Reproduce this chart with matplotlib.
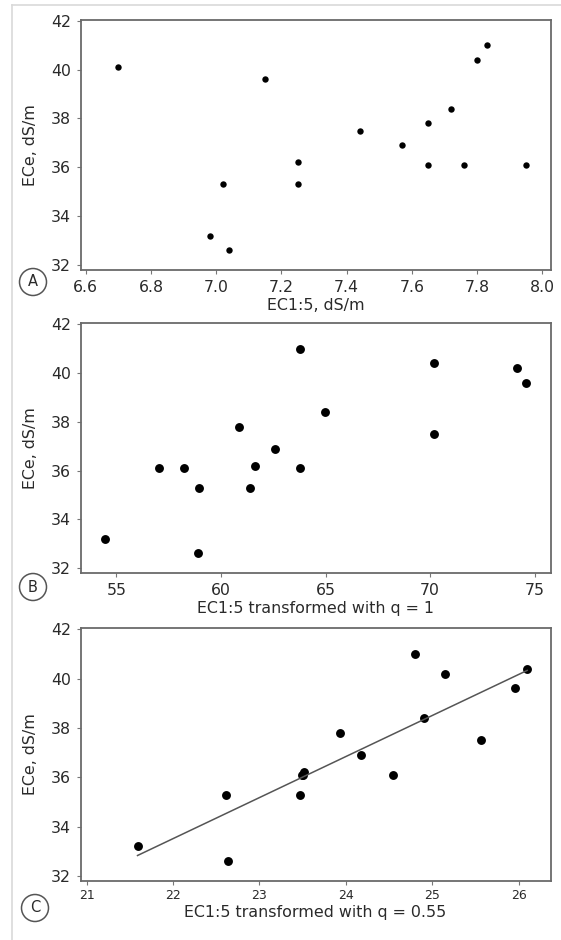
import numpy as np
from matplotlib import pyplot as plt
from matplotlib.lines import Line2D
from matplotlib.patches import Ellipse
from matplotlib.ticker import MultipleLocator

# ECe, dS/m against the three versions of EC1:5
ece_a = [40.1, 39.6, 33.2, 35.3, 32.6, 36.2, 35.3, 37.5, 36.9, 37.8, 36.1, 38.4, 36.1, 40.4, 41.0, 36.1]
ec15 = [6.70, 7.15, 6.98, 7.02, 7.04, 7.25, 7.25, 7.44, 7.57, 7.65, 7.65, 7.72, 7.76, 7.80, 7.83, 7.95]

ece_b = [33.2, 36.1, 36.1, 35.3, 32.6, 37.8, 36.2, 35.3, 36.9, 41.0, 36.1, 38.4, 40.4, 37.5, 40.2, 39.6]
q1 = [54.43, 57.03, 58.21, 58.95, 58.90, 60.87, 61.63, 61.40, 62.59, 63.76, 63.76, 64.99, 70.19, 70.19, 74.18, 74.61]

ece_c = [33.2, 35.3, 32.6, 35.3, 36.1, 36.1, 36.2, 37.8, 36.9, 36.1, 41.0, 38.4, 40.2, 37.5, 39.6, 40.4]
q055 = [21.59, 22.61, 22.64, 23.47, 23.49, 23.50, 23.52, 23.93, 24.18, 24.55, 24.80, 24.91, 25.15, 25.56, 25.96, 26.10]

W, H = 561, 940
fig = plt.figure(figsize=(W / 100, H / 100), dpi=100)
plt.rcParams['font.family'] = 'DejaVu Sans'
txt = '#2a2a2a'
label_size = 11.4


def make_axes(top, bottom):
    ax = fig.add_axes([80.5 / W, (H - bottom) / H, 470 / W, (bottom - top) / H])
    for s in ax.spines.values():
        s.set_color('#6a6a6a')
        s.set_linewidth(1.3)
    ax.tick_params(direction='out', length=3, width=0.8, color='#777777',
                   labelcolor=txt, labelsize=11.3, pad=4)
    ax.set_ylim(31.8, 42.05)
    ax.yaxis.set_major_locator(MultipleLocator(2))
    ax.set_ylabel('ECe, dS/m', fontsize=label_size, color=txt)
    ax.yaxis.set_label_coords(-0.107, 0.5)
    ax.yaxis.label.set_va('center')
    return ax


def tag(x, y, letter):
    fig.add_artist(Ellipse((x / W, 1 - y / H), 27 / W, 27 / H, transform=fig.transFigure,
                           fill=False, edgecolor='#555555', linewidth=1.1))
    fig.text(x / W, 1 - y / H, letter, ha='center', va='center', fontsize=10.5, color=txt)


# panel A
ax = make_axes(19.5, 270)
ax.plot(ec15, ece_a, 'o', color='black', markersize=4.6, markeredgewidth=0)
ax.set_xlim(6.584, 8.025)
ax.xaxis.set_major_locator(MultipleLocator(0.2))
ax.xaxis.set_major_formatter(lambda v, p: f'{v:.1f}')
ax.set_xlabel('EC1:5, dS/m', fontsize=label_size, color=txt)
ax.xaxis.set_label_coords(0.5, -0.14)
ax.xaxis.label.set_va('center')
tag(33, 282, 'A')

# panel B
ax = make_axes(323, 573)
ax.plot(q1, ece_b, 'o', color='black', markersize=6.4, markeredgewidth=0)
ax.set_xlim(53.28, 75.76)
ax.xaxis.set_major_locator(MultipleLocator(5))
ax.set_xlabel('EC1:5 transformed with q = 1', fontsize=label_size, color=txt)
ax.xaxis.set_label_coords(0.5, -0.14)
ax.xaxis.label.set_va('center')
tag(33, 587, 'B')

# panel C with least-squares line
ax = make_axes(628, 881)
ax.plot(q055, ece_c, 'o', color='black', markersize=6.4, markeredgewidth=0)
slope, icpt = np.polyfit(q055, ece_c, 1)
xs = np.array([min(q055), max(q055)])
ax.plot(xs, slope * xs + icpt, color='#555555', linewidth=1.1)
ax.set_xlim(20.93, 26.37)
ax.xaxis.set_major_locator(MultipleLocator(1))
ax.tick_params(axis='x', labelsize=9, pad=3)
ax.set_xlabel('EC1:5 transformed with q = 0.55', fontsize=label_size, color=txt)
ax.xaxis.set_label_coords(0.5, -0.126)
ax.xaxis.label.set_va('center')
tag(35, 908, 'C')

# light frame around the whole figure
fig.add_artist(Line2D([12 / W, 1], [1 - 5 / H, 1 - 5 / H], transform=fig.transFigure,
                      color='#d9d9d9', linewidth=1.2))
fig.add_artist(Line2D([12 / W, 12 / W], [0, 1 - 5 / H], transform=fig.transFigure,
                      color='#d9d9d9', linewidth=1.2))

plt.savefig('out.png', dpi=100)
